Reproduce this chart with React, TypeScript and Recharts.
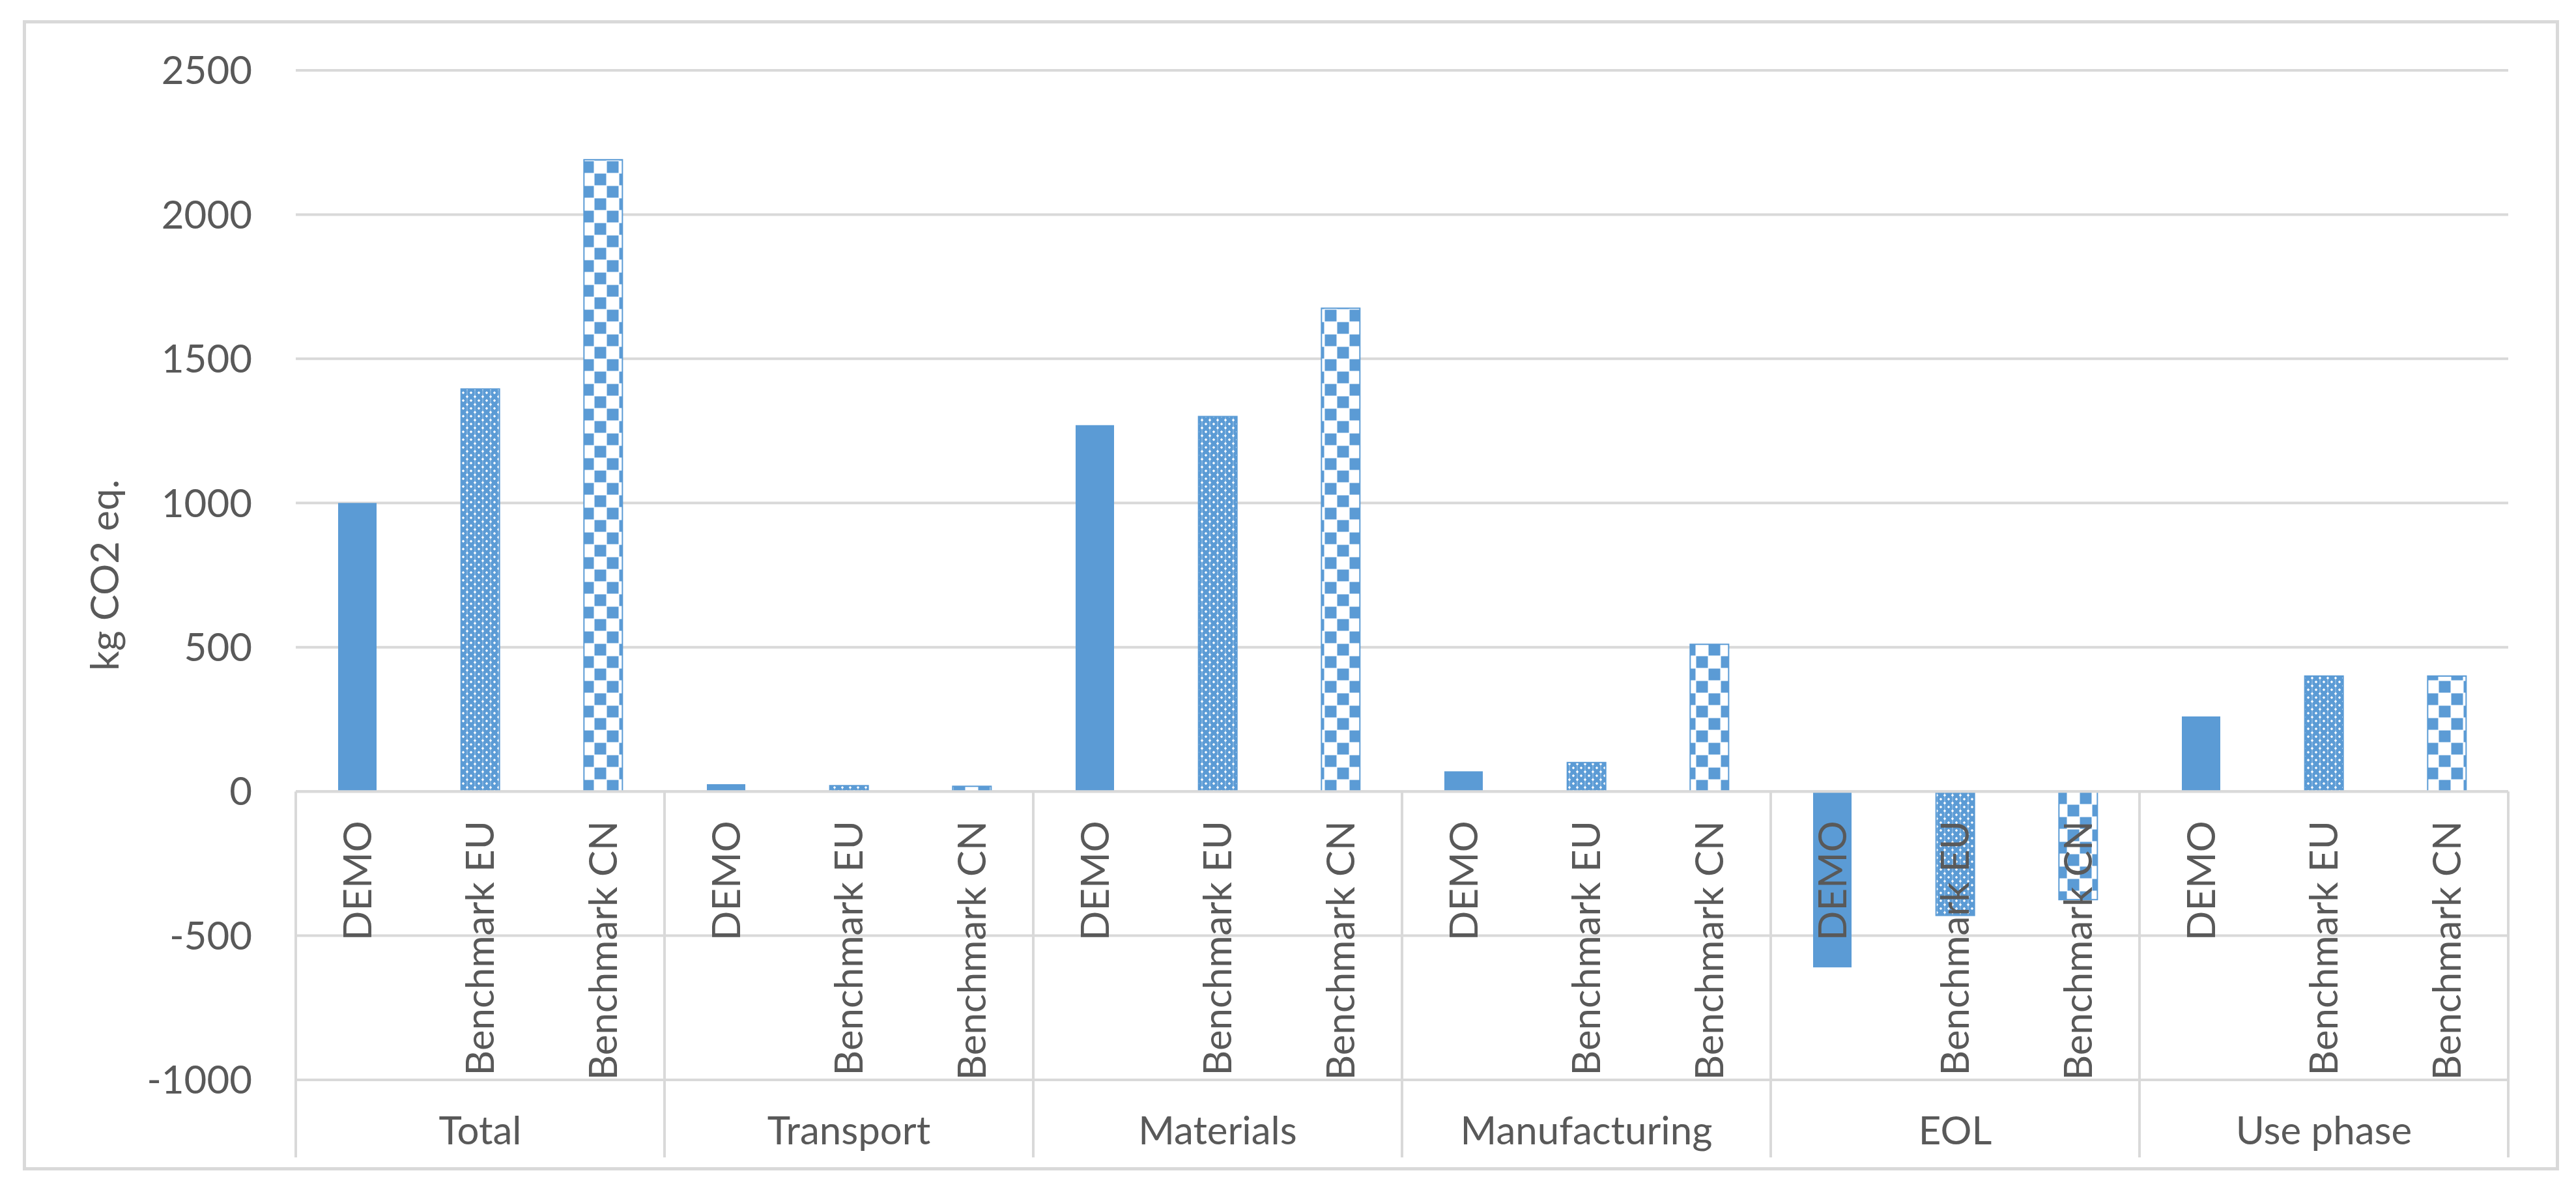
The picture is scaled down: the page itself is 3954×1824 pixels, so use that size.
import React from 'react';
import { BarChart, Bar, XAxis, YAxis, CartesianGrid, ReferenceLine, Cell, LabelList } from 'recharts';

const groups = ['Total', 'Transport', 'Materials', 'Manufacturing', 'EOL', 'Use phase'];
const scenarios = ['DEMO', 'Benchmark EU', 'Benchmark CN'];
const demo = [1000, 25, 1270, 70, -610, 260];
const benchmarkEU = [1395, 20, 1300, 100, -430, 400];
const benchmarkCN = [2190, 18, 1675, 510, -375, 400];
const yTicks = [-1000, -500, 0, 500, 1000, 1500, 2000, 2500];

const series = [demo, benchmarkEU, benchmarkCN];
const rows = groups.flatMap((g, gi) =>
  scenarios.map((s, si) => ({ key: `${gi}-${si}`, group: g, sub: s, si, value: series[si][gi] }))
);

// layout
const W = 3954;
const H = 1824;
const PLOT_LEFT = 454;
const PLOT_RIGHT = 3850;
const PLOT_TOP = 108;
const PLOT_BOTTOM = 1658;
const Y_MIN = -1000;
const Y_MAX = 2500;
const ZERO_Y = PLOT_TOP + (Y_MAX / (Y_MAX - Y_MIN)) * (PLOT_BOTTOM - PLOT_TOP);
const DIV_BOTTOM = 1777;
const GW = (PLOT_RIGHT - PLOT_LEFT) / groups.length;

const FONT = 'Lato, "Open Sans", sans-serif';
const TEXT = '#595959';
const GRID = '#d9d9d9';
const BLUE = '#5B9BD5';
const fills = [BLUE, 'url(#patEU)', 'url(#patCN)'];

const SubLabel = (props: any) => {
  const vb = props.viewBox ?? props;
  const { x, y, width, height } = vb;
  const row = rows.find((r) => r.key === props.value) ?? rows[props.index];
  if (!row) return null;
  const zeroY = row.value < 0 ? Math.min(y, y + height) : Math.max(y, y + height);
  const cx = x + width / 2;
  return (
    <text
      transform={`translate(${cx + 21},${zeroY + 45}) rotate(-90)`}
      textAnchor="end"
      fontFamily={FONT}
      fontSize={60}
      fill={TEXT}
    >
      {row.sub}
    </text>
  );
};

const GroupTick = ({ x, y, payload, index }: any) => (
  <g>
    <line x1={x - GW / 2} x2={x - GW / 2} y1={ZERO_Y} y2={DIV_BOTTOM} stroke={GRID} strokeWidth={4} />
    {index === groups.length - 1 && (
      <line x1={x + GW / 2} x2={x + GW / 2} y1={ZERO_Y} y2={DIV_BOTTOM} stroke={GRID} strokeWidth={4} />
    )}
    <text x={x} y={y + 99} textAnchor="middle" fontFamily={FONT} fontSize={60} fill={TEXT}>
      {payload.value}
    </text>
  </g>
);

const AxisTitle = ({ viewBox }: any) => {
  const cy = viewBox ? viewBox.y + viewBox.height / 2 : (PLOT_TOP + PLOT_BOTTOM) / 2;
  return (
    <text
      transform={`translate(182,${cy}) rotate(-90)`}
      textAnchor="middle"
      fontFamily={FONT}
      fontSize={60}
      fill={TEXT}
    >
      kg CO2 eq.
    </text>
  );
};

export default function App() {
  return (
    <div style={{ position: 'absolute', left: 0, top: 0, width: W, height: H, background: '#fff' }}>
      <div
        style={{
          position: 'absolute',
          left: 35,
          top: 31,
          width: 3893,
          height: 1766,
          border: `5px solid ${GRID}`,
          boxSizing: 'border-box',
        }}
      />
      <div style={{ position: 'absolute', left: 0, top: 0 }}>
        <BarChart
          width={W}
          height={H}
          data={rows}
          margin={{ top: PLOT_TOP, right: W - PLOT_RIGHT, bottom: H - PLOT_BOTTOM - 166, left: 0 }}
        >
          <defs>
            <pattern id="patEU" patternUnits="userSpaceOnUse" width={12} height={12}>
              <rect width={12} height={12} fill={BLUE} />
              <path d="M3 0.8 L5.2 3 L3 5.2 L0.8 3 Z" fill="#fff" />
              <path d="M9 6.8 L11.2 9 L9 11.2 L6.8 9 Z" fill="#fff" />
              <rect x={8.4} y={0} width={1.2} height={12} fill="#fff" opacity={0.35} />
            </pattern>
            <pattern id="patCN" patternUnits="userSpaceOnUse" width={38} height={38}>
              <rect width={38} height={38} fill="#fff" />
              <rect x={0.5} y={0.5} width={18} height={18} fill={BLUE} />
              <rect x={19.5} y={19.5} width={18} height={18} fill={BLUE} />
            </pattern>
          </defs>
          <CartesianGrid xAxisId="sub" vertical={false} stroke={GRID} strokeWidth={4} />
          <XAxis xAxisId="sub" dataKey="key" hide />
          <XAxis
            xAxisId="grp"
            dataKey="group"
            allowDuplicatedCategory={false}
            axisLine={false}
            tickLine={false}
            tickSize={0}
            tickMargin={0}
            height={166}
            interval={0}
            tick={<GroupTick />}
          />
          <YAxis
            width={PLOT_LEFT}
            domain={[Y_MIN, Y_MAX]}
            ticks={yTicks}
            axisLine={false}
            tickLine={false}
            tickSize={0}
            tickMargin={67}
            tick={{ fill: TEXT, fontSize: 60, fontFamily: FONT }}
            label={<AxisTitle />}
          />
          <ReferenceLine xAxisId="sub" y={0} stroke={GRID} strokeWidth={4} />
          <Bar xAxisId="sub" dataKey="value" barSize={59} isAnimationActive={false}>
            {rows.map((r) => (
              <Cell
                key={r.key}
                fill={fills[r.si]}
                stroke={r.si === 0 ? 'none' : BLUE}
                strokeWidth={r.si === 0 ? 0 : 2}
              />
            ))}
            <LabelList dataKey="key" content={<SubLabel />} />
          </Bar>
        </BarChart>
      </div>
    </div>
  );
}
